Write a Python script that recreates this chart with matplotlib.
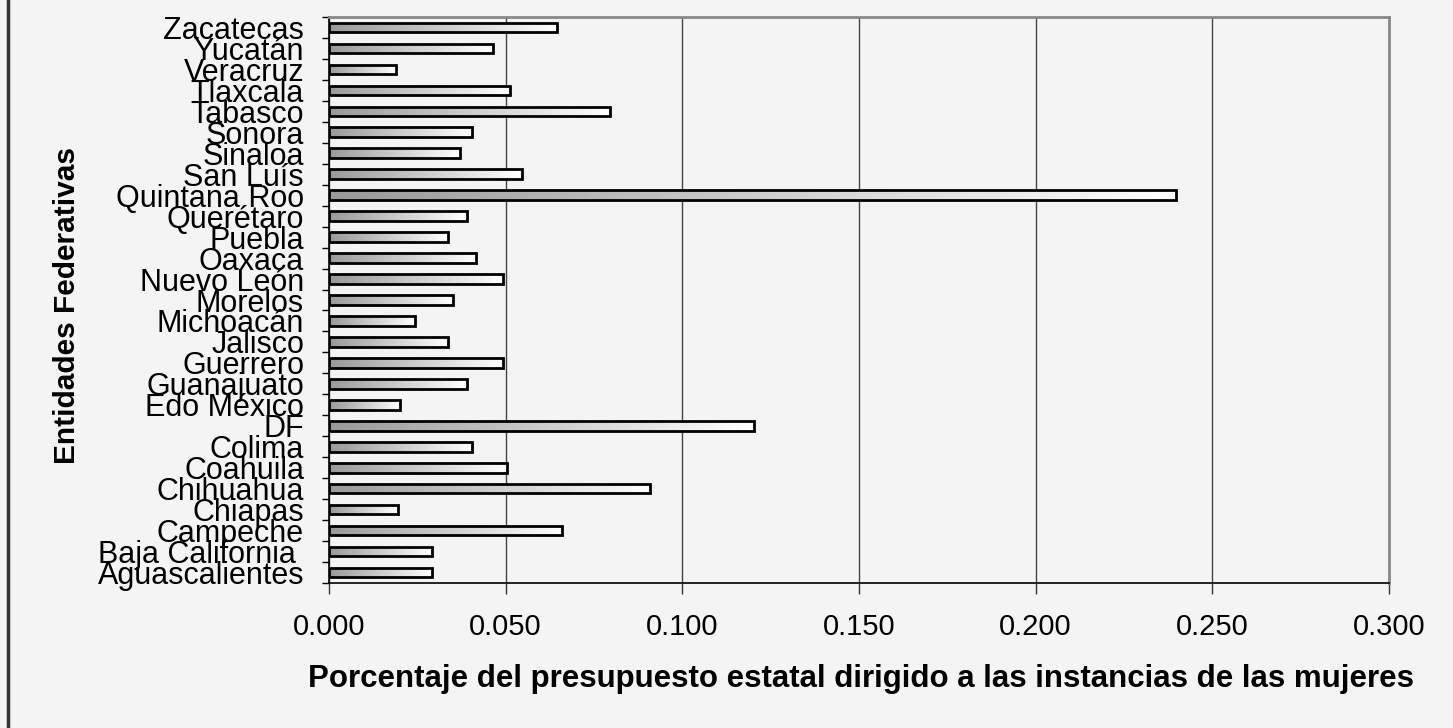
import numpy as np
import matplotlib
matplotlib.use("Agg")
import matplotlib.pyplot as plt
from matplotlib.colors import LinearSegmentedColormap

categories = ["Aguascalientes", "Baja California ", "Campeche", "Chiapas", "Chihuahua",
              "Coahuila", "Colima", "DF", "Edo México", "Guanajuato", "Guerrero",
              "Jalisco", "Michoacán", "Morelos", "Nuevo León", "Oaxaca", "Puebla",
              "Querétaro", "Quintana Roo", "San Luís", "Sinaloa", "Sonora", "Tabasco",
              "Tlaxcala", "Veracruz", "Yucatán", "Zacatecas"]
values = [0.0291, 0.0291, 0.0660, 0.0195, 0.0909,
          0.0505, 0.0405, 0.1204, 0.0202, 0.0391, 0.0492,
          0.0337, 0.0243, 0.0350, 0.0492, 0.0417, 0.0337,
          0.0391, 0.2397, 0.0545, 0.0370, 0.0405, 0.0794,
          0.0511, 0.0189, 0.0464, 0.0645]
xticks = [0.0, 0.05, 0.10, 0.15, 0.20, 0.25, 0.30]
xtick_labels = ["0.000", "0.050", "0.100", "0.150", "0.200", "0.250", "0.300"]

plt.rcParams['font.family'] = ['Liberation Sans', 'DejaVu Sans']

bg = "#f4f4f4"
fig = plt.figure(figsize=(14.53, 7.28), dpi=100, facecolor=bg)
ax = fig.add_axes([329/1453, 1 - 583/728, (1389-329)/1453, (583-17)/728])
ax.set_facecolor(bg)

n = len(categories)
y = np.arange(n)
bars = ax.barh(y, values, height=0.46, color="none", edgecolor="black", linewidth=2.0, zorder=3)

cmap = LinearSegmentedColormap.from_list("g", ["#999999", "#ffffff"])
grad = np.linspace(0, 1, 256).reshape(1, -1)
for b in bars:
    x0, y0 = b.get_x(), b.get_y()
    w, h = b.get_width(), b.get_height()
    im = ax.imshow(grad, cmap=cmap, aspect="auto", extent=[x0, x0 + w, y0, y0 + h],
                   origin="lower", zorder=2, interpolation="bilinear")
    im.set_clip_path(b)

ax.set_xlim(0, 0.3)
ax.set_ylim(-0.5, n - 0.5)
ax.set_xticks(xticks)
ax.set_xticklabels(xtick_labels, fontsize=21)
ax.set_yticks(y)
ax.set_yticklabels(categories, fontsize=22)
ax.tick_params(axis="y", length=0, pad=18)
ax.set_yticks(np.arange(n + 1) - 0.5, minor=True)
ax.tick_params(axis="y", which="minor", length=5, width=1, color="black")
ax.tick_params(axis="x", length=8, width=1, color="#333333", pad=13.5)

ax.grid(axis="x", color="#444444", linewidth=1, zorder=1)
ax.set_axisbelow(True)

for s in ["left", "bottom"]:
    ax.spines[s].set_color("black")
    ax.spines[s].set_linewidth(1.2)
for s in ["top", "right"]:
    ax.spines[s].set_color("#888888")
    ax.spines[s].set_linewidth(2)

fig.text(861/1453, 1 - 679/728, "Porcentaje del presupuesto estatal dirigido a las instancias de las mujeres",
         ha="center", va="center", fontsize=22.5, fontweight="bold")
fig.text(67/1453, 1 - 305/728, "Entidades Federativas", ha="center", va="center",
         rotation=90, fontsize=21.5, fontweight="bold")

fig.add_artist(plt.Line2D([7.5/1453, 7.5/1453], [0, 1], transform=fig.transFigure,
                          color="#333333", linewidth=2.5))

fig.savefig("out.png", dpi=100, facecolor=bg)
